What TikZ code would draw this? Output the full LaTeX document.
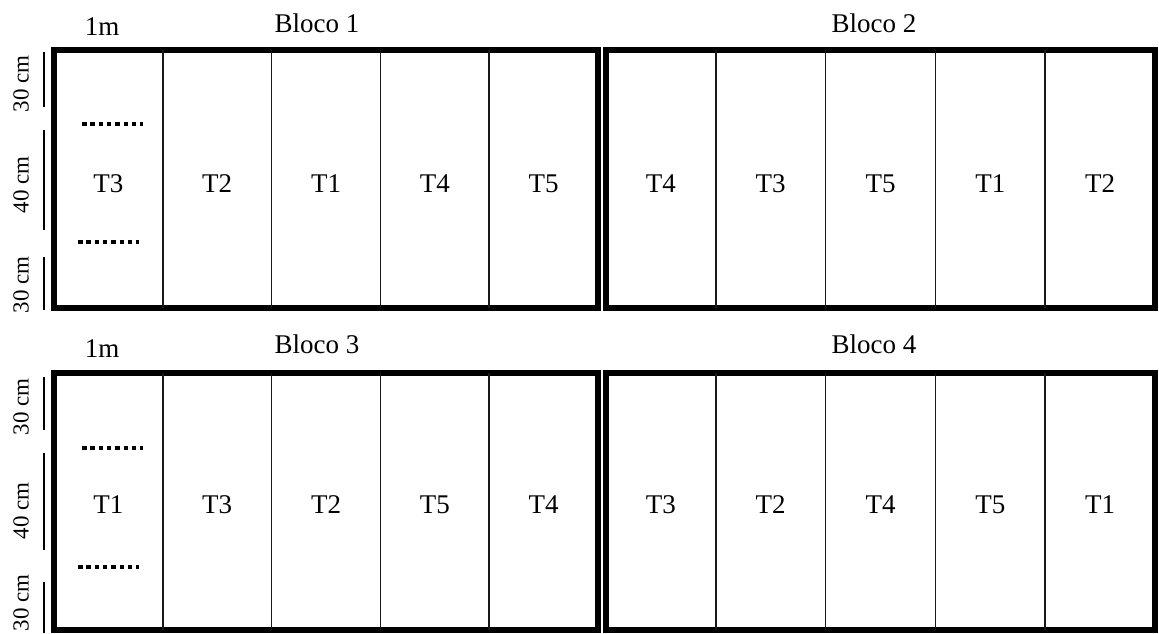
\documentclass[tikz,border=0pt]{standalone}
\usepackage{fontspec}
\setmainfont{Liberation Serif}
\begin{document}
\begin{tikzpicture}[x=1pt,y=-1pt]
\tikzset{
 blockline/.style={line width=6pt},
 colline/.style={line width=1.6pt, draw=black!90},
 dimline/.style={line width=1.4pt},
 dotline/.style={line width=4pt, dash pattern=on 4.5pt off 3.8pt},
 tlabel/.style={font=\fontsize{27}{30}\selectfont, anchor=base, inner sep=0pt},
 sidelabel/.style={font=\fontsize{23}{26}\selectfont, rotate=90, inner sep=0pt},
 toplabel/.style={font=\fontsize{27}{30}\selectfont, anchor=base, inner sep=0pt},
}
\useasboundingbox (0,0) rectangle (1159,633);
% ---- rows ----
\foreach \yt/\yb in {50/308, 373/630}{
  \draw[blockline] (54,\yt) rectangle (598,\yb);
  \draw[blockline] (606,\yt) rectangle (1155,\yb);
  \foreach \k in {1,2,3,4}{
    \draw[colline] ({54+108.8*\k},\yt) -- ({54+108.8*\k},\yb);
    \draw[colline] ({606+109.8*\k},\yt) -- ({606+109.8*\k},\yb);
  }
}
% ---- treatment labels ----
\foreach \t [count=\i from 0] in {T3,T2,T1,T4,T5}
  \node[tlabel] (a\i) at ({54+108.8*(\i+0.5)},192) {\t};
\foreach \t [count=\i from 0] in {T4,T3,T5,T1,T2}
  \node[tlabel] (b\i) at ({606+109.8*(\i+0.5)},192) {\t};
\foreach \t [count=\i from 0] in {T1,T3,T2,T5,T4}
  \node[tlabel] (c\i) at ({54+108.8*(\i+0.5)},513) {\t};
\foreach \t [count=\i from 0] in {T3,T2,T4,T5,T1}
  \node[tlabel] (d\i) at ({606+109.8*(\i+0.5)},513) {\t};
% ---- dotted lines ----
\draw[dotline] (82,124) -- (143,124);
\draw[dotline] (78,242) -- (139,242);
\draw[dotline] (82,448) -- (143,448);
\draw[dotline] (78,567) -- (139,567);
% ---- side dimension lines ----
\foreach \a/\b in {52/107,130/230,257/310,377/430,453/550,582/633}
  \draw[dimline] (44,\a) -- (44,\b);
% ---- side labels ----
\node[sidelabel] (s1) at (21,84) {30 cm};
\node[sidelabel] (s2) at (21,185) {40 cm};
\node[sidelabel] (s3) at (21,285) {30 cm};
\node[sidelabel] (s4) at (21,407) {30 cm};
\node[sidelabel] (s5) at (21,511) {40 cm};
\node[sidelabel] (s6) at (21,603) {30 cm};
% ---- top labels ----
\node[toplabel] (m1) at (102,35) {1m};
\node[toplabel] (bl1) at (317,32) {Bloco 1};
\node[toplabel] (bl2) at (874,32) {Bloco 2};
\node[toplabel] (m2) at (102,357) {1m};
\node[toplabel] (bl3) at (317,353) {Bloco 3};
\node[toplabel] (bl4) at (874,353) {Bloco 4};
\end{tikzpicture}
\end{document}
